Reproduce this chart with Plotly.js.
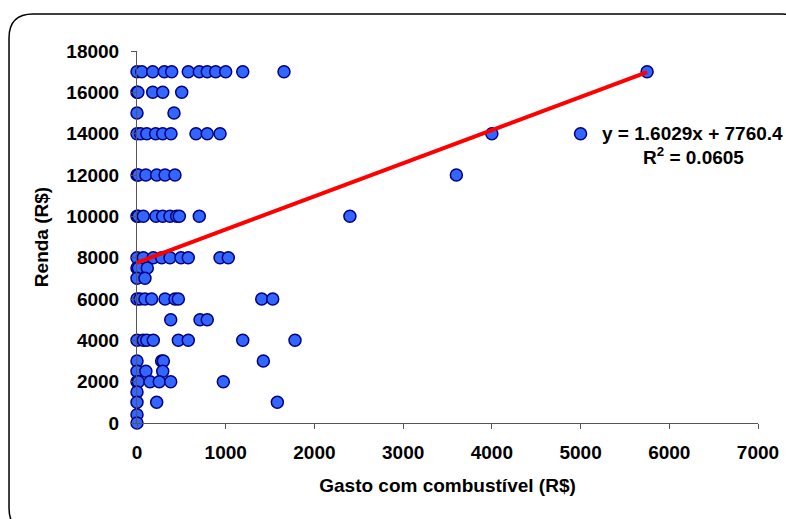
<!DOCTYPE html>
<html>
<head>
<meta charset="utf-8">
<script src="https://cdn.plot.ly/plotly-3.0.1.min.js"></script>
<style>html,body{margin:0;padding:0;background:#fff;}#chart{width:786px;height:519px;}</style>
</head>
<body>
<div id="chart"></div>
<script>
// Gasto com combustível (R$) and Renda (R$), one entry per household
const gastos = [
  0, 53, 177, 308, 391, 578, 702, 792, 887, 1000, 1192, 1657, 5750,
  0, 10, 177, 290, 504,
  0, 417,
  0, 40, 110, 210, 290, 383, 665, 792, 936, 4000, 5000,
  0, 15, 100, 222, 316, 428, 3600,
  0, 15, 71, 214, 290, 372, 447, 477, 702, 2400,
  0, 71, 184, 278, 372, 496, 578, 936, 1029,
  0, 15, 116,
  0, 90,
  0, 34, 90, 165, 316, 428, 466, 1406, 1530,
  380, 710, 792,
  0, 71, 110, 184, 466, 578, 1192, 1781,
  0, 278, 297, 1424,
  0, 100, 290,
  0, 15, 147, 251, 380, 973,
  0,
  0, 222, 1582,
  0,
  0
];
const rendas = [
  17000, 17000, 17000, 17000, 17000, 17000, 17000, 17000, 17000, 17000, 17000, 17000, 17000,
  16000, 16000, 16000, 16000, 16000,
  15000, 15000,
  14000, 14000, 14000, 14000, 14000, 14000, 14000, 14000, 14000, 14000, 14000,
  12000, 12000, 12000, 12000, 12000, 12000, 12000,
  10000, 10000, 10000, 10000, 10000, 10000, 10000, 10000, 10000, 10000,
  8000, 8000, 8000, 8000, 8000, 8000, 8000, 8000, 8000,
  7500, 7500, 7500,
  7000, 7000,
  6000, 6000, 6000, 6000, 6000, 6000, 6000, 6000, 6000,
  5000, 5000, 5000,
  4000, 4000, 4000, 4000, 4000, 4000, 4000, 4000,
  3000, 3000, 3000, 3000,
  2500, 2500, 2500,
  2000, 2000, 2000, 2000, 2000, 2000,
  1500,
  1000, 1000, 1000,
  400,
  0
];
// linear trendline endpoints (y = 1.6029x + 7760.4)
const trendX = [0, 5750];
const trendY = [7760.4, 16977.1];
const xTicks = [0, 1000, 2000, 3000, 4000, 5000, 6000, 7000];
const yTicks = [0, 2000, 4000, 6000, 8000, 10000, 12000, 14000, 16000, 18000];
const eqText = 'y = 1.6029x + 7760.4';
const r2Text = 'R<sup>2</sup> = 0.0605';

const font = {family: '"Liberation Sans", Arial, sans-serif', size: 19, color: '#000', weight: 'bold'};

// frame (rounded rectangle) in paper coords
const L = 137, T = 51, W = 621, H = 372;
function px(x){return ((x - L) / W).toFixed(4);}
function py(y){return ((T + H - y) / H).toFixed(4);}
const x0 = 9, x1 = 806, y0 = 14, y1 = 532, r = 24;
const framePath =
  'M' + px(x0 + r) + ',' + py(y0) +
  ' L' + px(x1 - r) + ',' + py(y0) +
  ' Q' + px(x1) + ',' + py(y0) + ' ' + px(x1) + ',' + py(y0 + r) +
  ' L' + px(x1) + ',' + py(y1 - r) +
  ' Q' + px(x1) + ',' + py(y1) + ' ' + px(x1 - r) + ',' + py(y1) +
  ' L' + px(x0 + r) + ',' + py(y1) +
  ' Q' + px(x0) + ',' + py(y1) + ' ' + px(x0) + ',' + py(y1 - r) +
  ' L' + px(x0) + ',' + py(y0 + r) +
  ' Q' + px(x0) + ',' + py(y0) + ' ' + px(x0 + r) + ',' + py(y0) + ' Z';

const data = [
  {
    type: 'scatter', mode: 'markers', x: gastos, y: rendas,
    marker: {size: 12, color: '#3366FF', line: {color: '#000080', width: 1.5}},
    hoverinfo: 'x+y', showlegend: false, cliponaxis: false
  },
  {
    type: 'scatter', mode: 'lines', x: trendX, y: trendY,
    line: {color: '#FF0000', width: 4}, showlegend: false, cliponaxis: false
  }
];

const layout = {
  width: 786, height: 519,
  margin: {l: L, r: 786 - L - W, t: T, b: 519 - T - H, pad: 0},
  paper_bgcolor: '#fff', plot_bgcolor: '#fff',
  font: font,
  xaxis: {
    range: [0, 7000], tickvals: xTicks, ticktext: xTicks.map(String),
    showgrid: false, zeroline: false, showline: true, linecolor: '#555', linewidth: 1,
    ticks: 'outside', ticklen: 5, tickcolor: '#555', ticklabelstandoff: 7,
    tickfont: font,
    title: {text: 'Gasto com combustível (R$)', font: font, standoff: 16}
  },
  yaxis: {
    range: [0, 18000], tickvals: yTicks, ticktext: yTicks.map(String),
    showgrid: false, zeroline: false, showline: true, linecolor: '#555', linewidth: 1,
    ticks: 'outside', ticklen: 5, tickcolor: '#555', ticklabelstandoff: 8,
    tickfont: font,
    title: {text: 'Renda (R$)', font: font, standoff: 12}
  },
  shapes: [{
    type: 'path', xref: 'paper', yref: 'paper', path: framePath,
    line: {color: '#000', width: 1.5}, layer: 'below'
  }],
  annotations: [
    {xref: 'paper', yref: 'paper', x: (600 - L) / W, y: (T + H - 133) / H,
     xanchor: 'left', yanchor: 'middle', text: eqText, showarrow: false, font: font},
    {xref: 'paper', yref: 'paper', x: (693 - L) / W, y: (T + H - 156) / H,
     xanchor: 'center', yanchor: 'middle', text: r2Text, showarrow: false, font: font}
  ]
};

Plotly.newPlot('chart', data, layout, {staticPlot: true, displayModeBar: false});
</script>
</body>
</html>
